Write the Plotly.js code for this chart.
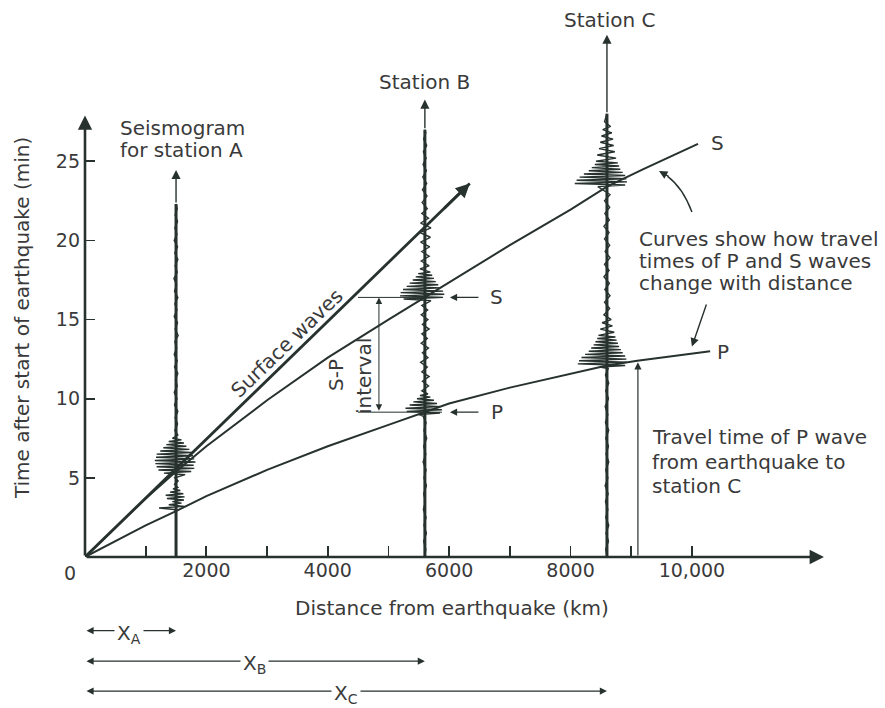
<!DOCTYPE html>
<html><head><meta charset="utf-8">
<script src="https://cdn.plot.ly/plotly-3.0.1.min.js"></script>
<style>html,body{margin:0;padding:0;background:#fff}</style>
</head><body><div id="chart" style="width:885px;height:708px"></div>
<script>
// ---------- DATA ----------
// Travel-time curves (distance km, time min)
const pWaveDist = [0, 1000, 1500, 2000, 3000, 4000, 5000, 5600, 6000, 7000, 8000, 8600, 9100, 10300];
const pWaveTime = [0, 2.0, 2.9, 3.85, 5.5, 7.0, 8.35, 9.15, 9.7, 10.7, 11.6, 12.1, 12.4, 13.0];
const sWaveDist = [0, 1000, 1500, 2000, 3000, 4000, 5000, 5600, 6000, 7000, 8000, 8600, 9200, 10100];
const sWaveTime = [0, 3.7, 5.4, 7.0, 9.9, 12.6, 15.0, 16.4, 17.33, 19.7, 21.95, 23.4, 24.5, 26.1];
const surfaceDist = [0, 6340];
const surfaceTime = [0, 23.6];

// Stations
const stationNames = ['A', 'B', 'C'];
const stationDist = [1500, 5600, 8600];
const traceTop = [22.3, 27.0, 28.0];
const arrowTop = [24.45, 28.9, 33.0];

// Seismograms: [time (min), ground-motion offset (km on chart)]
const seisA = [[0,0],[2.9,0],[3.0,-30],[3.1,-280],[3.2,140],[3.3,-120],[3.4,90],[3.5,-60],[3.6,130],[3.7,-150],[3.8,140],[3.9,-170],[4.0,120],[4.1,-100],[4.2,70],[4.3,-50],[4.4,30],[4.6,-25],[4.8,35],[5.0,-20],[5.2,150],[5.3,-200],[5.4,250],[5.5,-290],[5.6,300],[5.7,-320],[5.8,290],[5.9,-340],[6.0,320],[6.1,-350],[6.2,300],[6.3,-330],[6.4,280],[6.5,-320],[6.6,260],[6.7,-260],[6.8,220],[6.9,-210],[7.0,170],[7.1,-160],[7.2,130],[7.3,-120],[7.4,90],[7.5,-60],[7.7,30],[8.0,-20],[8.4,25],[8.8,-15],[9.2,30],[9.6,-25],[10.0,15],[10.4,-30],[10.8,20],[11.2,-10],[11.6,30],[12.0,-25],[12.4,20],[12.8,-30],[13.2,10],[13.6,-20],[14.0,35],[14.4,-15],[14.8,25],[15.2,-30],[15.6,15],[16.0,-20],[16.4,30],[16.8,-25],[17.2,10],[17.6,-35],[18.0,20],[18.4,-15],[18.8,30],[19.2,-20],[19.6,25],[20.0,-30],[20.4,15],[20.8,-20],[21.2,25],[21.6,-15],[22.0,20],[22.3,0]];
const seisB = [[0,0],[0.5,15],[1.0,-20],[1.5,25],[2.0,-15],[2.5,20],[3.0,-25],[3.5,10],[4.0,-20],[4.5,25],[5.0,-15],[5.5,20],[6.0,-30],[6.5,15],[7.0,-20],[7.5,30],[8.0,-15],[8.5,20],[8.9,-30],[9.0,-100],[9.1,250],[9.2,-300],[9.3,280],[9.4,-320],[9.5,260],[9.6,-250],[9.7,200],[9.8,-190],[9.9,150],[10.0,-130],[10.1,90],[10.2,-80],[10.3,50],[10.5,-50],[10.8,60],[11.1,-40],[11.4,70],[11.7,-50],[12.0,40],[12.3,-70],[12.6,50],[12.9,-40],[13.2,60],[13.5,-60],[13.8,40],[14.1,-50],[14.4,70],[14.7,-40],[15.0,50],[15.3,-60],[15.6,45],[15.9,-50],[16.1,60],[16.2,100],[16.3,-350],[16.4,300],[16.5,-410],[16.6,320],[16.7,-400],[16.8,300],[16.9,-360],[17.0,260],[17.1,-300],[17.2,220],[17.3,-250],[17.4,180],[17.5,-200],[17.6,150],[17.7,-150],[17.8,120],[17.9,-110],[18.0,90],[18.2,-80],[18.4,70],[18.7,-60],[19.0,70],[19.3,-50],[19.6,80],[19.9,-70],[20.2,90],[20.5,-80],[20.8,100],[21.1,-70],[21.4,60],[21.7,-50],[22.0,40],[22.4,-45],[22.8,35],[23.2,-40],[23.6,30],[24.0,-35],[24.4,25],[24.8,-30],[25.2,20],[25.6,-25],[26.0,30],[26.4,-20],[26.8,15],[27.0,0]];
const seisC = [[0,0],[0.5,-20],[1.0,25],[1.5,-15],[2.0,30],[2.5,-20],[3.0,15],[3.5,-25],[4.0,20],[4.5,-30],[5.0,15],[5.5,-20],[6.0,30],[6.5,-15],[7.0,25],[7.5,-20],[8.0,30],[8.5,-25],[9.0,15],[9.5,-30],[10.0,25],[10.5,-20],[11.0,30],[11.5,-25],[11.9,20],[12.0,-120],[12.1,300],[12.2,-480],[12.3,330],[12.4,-460],[12.5,320],[12.6,-420],[12.7,300],[12.8,-360],[12.9,260],[13.0,-300],[13.1,230],[13.2,-260],[13.3,200],[13.4,-220],[13.5,180],[13.6,-190],[13.7,160],[13.8,-160],[13.9,140],[14.0,-140],[14.2,120],[14.4,-110],[14.6,90],[14.8,-80],[15.0,70],[15.3,-50],[15.7,45],[16.1,-40],[16.5,50],[16.9,-35],[17.3,40],[17.7,-50],[18.1,35],[18.5,-40],[18.9,50],[19.3,-30],[19.7,45],[20.1,-40],[20.5,35],[20.9,-50],[21.3,40],[21.7,-35],[22.1,45],[22.5,-40],[22.9,50],[23.2,-60],[23.4,-150],[23.5,300],[23.6,-530],[23.7,330],[23.8,-500],[23.9,320],[24.0,-450],[24.1,300],[24.2,-380],[24.3,260],[24.4,-300],[24.5,220],[24.6,-250],[24.7,200],[24.8,-200],[24.9,180],[25.0,-180],[25.2,150],[25.4,-160],[25.6,130],[25.8,-130],[26.0,110],[26.2,-110],[26.4,100],[26.6,-90],[26.8,80],[27.0,-70],[27.2,60],[27.5,-40],[28.0,0]];

// Axis ticks
const xTickVals = [1000, 2000, 3000, 4000, 5000, 6000, 7000, 8000, 9000, 10000];
const xTickText = ['', '2000', '', '4000', '', '6000', '', '8000', '', '10,000'];
const yTickVals = [5, 10, 15, 20, 25];
const yTickText = ['5', '10', '15', '20', '25'];

// ---------- STYLE ----------
const LINE = '#27322f';
const TXT = '#3a3a3a';
const FONT = 'DejaVu Sans';

const seismograms = [seisA, seisB, seisC];
const traces = [];
traces.push({x: pWaveDist, y: pWaveTime, mode: 'lines', line: {color: LINE, width: 2}, hoverinfo: 'skip'});
traces.push({x: sWaveDist, y: sWaveTime, mode: 'lines', line: {color: LINE, width: 2}, hoverinfo: 'skip'});
traces.push({x: surfaceDist, y: surfaceTime, mode: 'lines', line: {color: LINE, width: 2.8}, hoverinfo: 'skip'});
// thick base of each seismogram trace
stationDist.forEach((d, i) => {
  traces.push({x: [d, d], y: [0, traceTop[i]], mode: 'lines', line: {color: LINE, width: 3}, hoverinfo: 'skip'});
});
seismograms.forEach((s, i) => {
  traces.push({
    x: s.map(p => stationDist[i] + p[1]),
    y: s.map(p => p[0]),
    mode: 'lines', line: {color: LINE, width: 1.4}, hoverinfo: 'skip'
  });
});

function txt(text, x, y, opts) {
  return Object.assign({text: text, x: x, y: y, xref: 'x', yref: 'y', showarrow: false,
    xanchor: 'center', yanchor: 'middle',
    font: {family: FONT, size: 20, color: TXT}}, opts || {});
}
function arrow(x, y, ax, ay, opts) {
  return Object.assign({x: x, y: y, ax: ax, ay: ay, xref: 'x', yref: 'y', axref: 'x', ayref: 'y',
    text: '', showarrow: true, arrowhead: 2, arrowsize: 1.2, arrowwidth: 1.4, arrowcolor: LINE}, opts || {});
}

const iB = pWaveDist.indexOf(stationDist[1]);
const jB = sWaveDist.indexOf(stationDist[1]);
const tP_B = pWaveTime[iB];
const tS_B = sWaveTime[jB];

const annotations = [];
// axes with arrowheads
annotations.push(arrow(12175, 0, 0, 0, {arrowwidth: 2.6, arrowsize: 1.1}));
annotations.push(arrow(0, 27.9, 0, 0, {arrowwidth: 2.6, arrowsize: 1.1}));
// surface-wave arrowhead
const sdx = surfaceDist[1], sdy = surfaceTime[1];
annotations.push(arrow(sdx, sdy, sdx * 0.93, sdy * 0.93, {arrowwidth: 2.8, arrowsize: 1.0}));
// seismogram arrows
stationDist.forEach((d, i) => annotations.push(arrow(d, arrowTop[i], d, traceTop[i], {arrowwidth: 1.4, arrowsize: 1.3})));
// station labels
annotations.push(txt('Seismogram', 544, 27.1, {xanchor: 'left'}));
annotations.push(txt('for station A', 544, 25.71, {xanchor: 'left'}));
annotations.push(txt('Station B', 5600, 30.0));
annotations.push(txt('Station C', 8650, 33.92));
// curve labels
annotations.push(txt('S', 10428, 26.15));
annotations.push(txt('P', 10511, 12.95));
annotations.push(txt('Surface waves', 3328, 13.52, {textangle: -44}));
// S and P pointers at station B
annotations.push(arrow(6013, tS_B, 6507, tS_B, {arrowwidth: 1.2}));
annotations.push(arrow(6013, tP_B, 6507, tP_B, {arrowwidth: 1.2}));
annotations.push(txt('S', 6787, tS_B));
annotations.push(txt('P', 6787, tP_B));
// S-P interval
annotations.push(arrow(4843, tS_B, 4843, tP_B, {arrowwidth: 1, arrowsize: 1.3, arrowside: 'end+start', startarrowhead: 2, startarrowsize: 1.3}));
annotations.push(txt('S-P', 4135, 11.5, {textangle: -90}));
annotations.push(txt('interval', 4596, 11.43, {textangle: -90}));
// Right-hand notes
annotations.push(txt('Curves show how travel', 9094, 20.1, {xanchor: 'left'}));
annotations.push(txt('times of P and S waves', 9094, 18.7, {xanchor: 'left'}));
annotations.push(txt('change with distance', 9094, 17.3, {xanchor: 'left'}));
annotations.push(arrow(9457, 24.38, 9640, 24.0, {arrowwidth: 1.4}));
annotations.push(arrow(10000, 13.3, 10247, 16.05, {arrowwidth: 1.4}));
annotations.push(arrow(9110, 12.3, 9110, 0, {arrowwidth: 1.2}));
annotations.push(txt('Travel time of P wave', 9308, 7.58, {xanchor: 'left'}));
annotations.push(txt('from earthquake to', 9308, 6.0, {xanchor: 'left'}));
annotations.push(txt('station C', 9308, 4.49, {xanchor: 'left'}));
// origin label and axis titles
annotations.push({text: '0', xref: 'paper', yref: 'paper', x: -0.019, y: -0.029, xanchor: 'center', yanchor: 'middle', showarrow: false, font: {family: FONT, size: 19, color: TXT}});
annotations.push({text: 'Distance from earthquake (km)', xref: 'x', yref: 'paper', x: 6050, y: -0.092, xanchor: 'center', yanchor: 'middle', showarrow: false, font: {family: FONT, size: 20, color: TXT}});
annotations.push({text: 'Time after start of earthquake (min)', xref: 'paper', yref: 'paper', x: -0.08, y: 0.431, xanchor: 'center', yanchor: 'middle', textangle: -90, showarrow: false, font: {family: FONT, size: 20, color: TXT}});
// distance brackets X_A, X_B, X_C
const rowsY = [-0.133, -0.188, -0.242];
const labelX = [725, 2800, 4300];
stationDist.forEach((d, i) => {
  annotations.push({x: d, y: rowsY[i], ax: 0, ay: 0, xref: 'x', yref: 'paper', axref: 'x', ayref: 'pixel', text: '',
    showarrow: true, arrowhead: 2, arrowsize: 1.1, arrowwidth: 1.3, arrowcolor: LINE,
    arrowside: 'end+start', startarrowhead: 2, startarrowsize: 1.1});
  annotations.push({x: labelX[i], y: rowsY[i], xref: 'x', yref: 'paper', xanchor: 'center', yanchor: 'middle', yshift: -3,
    showarrow: false, bgcolor: '#ffffff', borderpad: 2,
    text: 'X<sub>' + stationNames[i] + '</sub>', font: {family: FONT, size: 20, color: TXT}});
});

const shapes = [
  {type: 'line', xref: 'x', yref: 'y', x0: 4498, x1: 5881, y0: tS_B, y1: tS_B, line: {color: LINE, width: 1}},
  {type: 'line', xref: 'x', yref: 'y', x0: 4498, x1: 5881, y0: tP_B, y1: tP_B, line: {color: LINE, width: 1}},
  // curved pointer from the note to the S curve
  {type: 'path', xref: 'x', yref: 'y', path: 'M 10000,21.8 Q 9852,23.32 9600,24.05', line: {color: LINE, width: 1.4}}
];

const layout = {
  width: 885, height: 708,
  margin: {l: 85, r: 11, t: 3, b: 151},
  paper_bgcolor: '#ffffff', plot_bgcolor: '#ffffff',
  showlegend: false,
  xaxis: {range: [0, 13000], showgrid: false, zeroline: false, showline: false,
    ticks: 'inside', ticklen: 11, tickwidth: 1.8, tickcolor: LINE,
    tickvals: xTickVals, ticktext: xTickText, tickfont: {family: FONT, size: 19, color: TXT}, fixedrange: true},
  yaxis: {range: [0, 35], showgrid: false, zeroline: false, showline: false,
    ticks: 'inside', ticklen: 10, tickwidth: 1.8, tickcolor: LINE, ticklabelstandoff: 4,
    tickvals: yTickVals, ticktext: yTickText, tickfont: {family: FONT, size: 19, color: TXT}, fixedrange: true},
  annotations: annotations,
  shapes: shapes
};

Plotly.newPlot('chart', traces, layout, {staticPlot: true, displayModeBar: false});
</script>
</body></html>
